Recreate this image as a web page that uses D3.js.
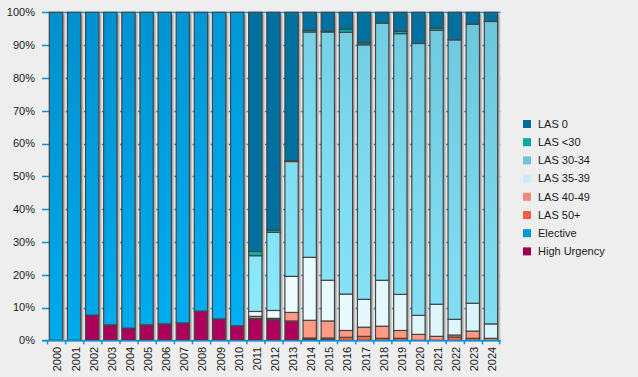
<!DOCTYPE html>
<html>
<head>
<meta charset="utf-8">
<script src="https://cdn.jsdelivr.net/npm/d3@7"></script>
<style>
  body { margin: 0; background: #eeeeee; }
  #chart text { font-family: "Liberation Sans", Arial, sans-serif; font-size: 11px; fill: #1a1a1a; }
</style>
</head>
<body>
<div id="chart"></div>
<script>
const years = d3.range(2000, 2025).map(String);
const seriesNames = ["High Urgency", "Elective", "LAS 50+", "LAS 40-49", "LAS 35-39", "LAS 30-34", "LAS <30", "LAS 0"];

// percentages per year
const highUrgency = [0, 0, 7.7, 4.7, 3.7, 4.7, 5.0, 5.3, 8.9, 6.5, 4.4, 6.5, 6.2, 5.9, 0.3, 0.2, 0, 0, 0, 0, 0, 0, 0, 0, 0];
const elective = [100, 100, 92.3, 95.3, 96.3, 95.3, 95.0, 94.7, 91.1, 93.5, 95.6, 0, 0, 0, 0, 0, 0, 0, 0, 0, 0, 0, 0, 0, 0];
const las50 = [0, 0, 0, 0, 0, 0, 0, 0, 0, 0, 0, 0.2, 0.2, 0, 0.4, 0.5, 0.9, 1.2, 0.6, 0.6, 0, 0, 1.0, 0.6, 0];
const las4049 = [0, 0, 0, 0, 0, 0, 0, 0, 0, 0, 0, 0.6, 0.3, 2.6, 5.4, 5.2, 2.1, 2.8, 3.7, 2.4, 1.8, 1.2, 0.6, 2.2, 0.6];
const las3539 = [0, 0, 0, 0, 0, 0, 0, 0, 0, 0, 0, 1.5, 2.4, 11.0, 19.2, 12.4, 11.1, 8.5, 14.0, 11.0, 5.8, 9.8, 4.8, 8.5, 4.4];
const las3034 = [0, 0, 0, 0, 0, 0, 0, 0, 0, 0, 0, 17.0, 23.8, 35.0, 68.7, 75.7, 79.8, 77.6, 78.4, 79.5, 82.9, 83.5, 85.2, 85.1, 92.2];
const lasUnder30 = [0, 0, 0, 0, 0, 0, 0, 0, 0, 0, 0, 1.3, 0.7, 0.3, 0.5, 0.2, 0.9, 0.6, 0, 0.7, 0, 0.7, 0, 0, 0];
const las0 = [0, 0, 0, 0, 0, 0, 0, 0, 0, 0, 0, 72.9, 66.4, 45.2, 5.5, 5.8, 5.2, 9.3, 3.3, 5.8, 9.5, 4.8, 8.4, 3.6, 2.8];
const yTicks = [0, 10, 20, 30, 40, 50, 60, 70, 80, 90, 100];

const width = 638, height = 377;
const plotLeft = 47.5, plotRight = 500.6, plotTop = 12.3, plotBottom = 340.3;
const axisBlue = "#108ed6";

const legendColors = {
    "LAS 0": "#006c99", "LAS <30": "#00ab9f", "LAS 30-34": "#6fc3db", "LAS 35-39": "#cdeaf8",
    "LAS 40-49": "#f28a7a", "LAS 50+": "#f25c44", "Elective": "#0096d8", "High Urgency": "#9e0050"
};

const svg = d3.select("#chart").append("svg")
    .attr("width", width)
    .attr("height", height);

const defs = svg.append("defs");
const addGradient = (id, x1, y1, x2, y2, c1, c2) => {
    const g = defs.append("linearGradient")
        .attr("id", id)
        .attr("gradientUnits", "userSpaceOnUse")
        .attr("x1", x1).attr("y1", y1).attr("x2", x2).attr("y2", y2);
    g.append("stop").attr("offset", 0).attr("stop-color", c1);
    g.append("stop").attr("offset", 1).attr("stop-color", c2);
    return "url(#" + id + ")";
};

const fills = {
    "High Urgency": addGradient("gHU", 48, 200, 300, 340, "#a6005a", "#b0005c"),
    "Elective": addGradient("gEl", 48, 12, 245, 340, "#008fcd", "#00b2f6"),
    "LAS 50+": "#ff6848",
    "LAS 40-49": "#ff9a84",
    "LAS 35-39": addGradient("g3539", 250, 340, 500, 300, "#f2ffff", "#d6f3fb"),
    "LAS 30-34": addGradient("g3034", 250, 340, 500, 20, "#8eecff", "#6cc6db"),
    "LAS <30": "#00b3aa",
    "LAS 0": "#00709f"
};
const shadowFill = addGradient("gShadow", 0, 0, 1, 0, "#8a8a8a", "#dcdcdc");
defs.select("#gShadow").attr("gradientUnits", "objectBoundingBox");

const xScale = d3.scaleBand().domain(years).range([plotLeft, plotRight]).padding(0);
const yScale = d3.scaleLinear().domain([0, 100]).range([plotBottom, plotTop]);
const barOffset = 1.8, barWidth = xScale.bandwidth() * 0.735;

// gridlines behind the bars
svg.append("g").selectAll("line")
    .data(yTicks)
    .join("line")
    .attr("x1", 42).attr("x2", plotRight)
    .attr("y1", (d) => Math.round(yScale(d)) + 0.5)
    .attr("y2", (d) => Math.round(yScale(d)) + 0.5)
    .attr("stroke", axisBlue)
    .attr("stroke-width", 1.3);

const rows = years.map((year, i) => ({
    year: year,
    "High Urgency": highUrgency[i], "Elective": elective[i], "LAS 50+": las50[i], "LAS 40-49": las4049[i],
    "LAS 35-39": las3539[i], "LAS 30-34": las3034[i], "LAS <30": lasUnder30[i], "LAS 0": las0[i]
}));
const stacked = d3.stack().keys(seriesNames)(rows);

// bar shadows
svg.append("g").selectAll("rect")
    .data(years)
    .join("rect")
    .attr("x", (d) => xScale(d) + barOffset + barWidth)
    .attr("y", plotTop + 2)
    .attr("width", 3)
    .attr("height", plotBottom - plotTop - 2)
    .attr("fill", shadowFill);

svg.append("g").selectAll("g")
    .data(stacked)
    .join("g")
    .attr("fill", (s) => fills[s.key])
    .selectAll("rect")
    .data((s) => s.filter((d) => d[1] - d[0] > 0))
    .join("rect")
    .attr("x", (d) => xScale(d.data.year) + barOffset)
    .attr("y", (d) => yScale(d[1]))
    .attr("width", barWidth)
    .attr("height", (d) => yScale(d[0]) - yScale(d[1]))
    .attr("stroke", "#444")
    .attr("stroke-width", 1.2);

// x axis line and ticks at band boundaries
svg.append("line")
    .attr("x1", 42).attr("x2", plotRight)
    .attr("y1", plotBottom + 0.5).attr("y2", plotBottom + 0.5)
    .attr("stroke", axisBlue).attr("stroke-width", 1.5);
svg.append("g").selectAll("line")
    .data(years.map((y) => xScale(y)).concat([plotRight - 1]))
    .join("line")
    .attr("x1", (d) => d).attr("x2", (d) => d)
    .attr("y1", plotBottom).attr("y2", plotBottom + 4)
    .attr("stroke", axisBlue).attr("stroke-width", 1.5);

svg.append("g").selectAll("text")
    .data(years)
    .join("text")
    .attr("transform", (d) => "translate(" + (xScale(d) + xScale.bandwidth() / 2 + 1) + "," + (plotBottom + 6.5) + ") rotate(-90)")
    .attr("text-anchor", "end")
    .attr("dy", "0.35em")
    .text((d) => d);

svg.append("g").selectAll("text")
    .data(yTicks)
    .join("text")
    .attr("x", 35)
    .attr("y", (d) => yScale(d))
    .attr("dy", "0.35em")
    .attr("text-anchor", "end")
    .text((d) => d + "%");

// legend, top entry is the top of the stack
const legend = svg.append("g").selectAll("g")
    .data(seriesNames.slice().reverse())
    .join("g")
    .attr("transform", (d, i) => "translate(523," + (124 + i * 18.2) + ")");
legend.append("rect")
    .attr("x", 0).attr("y", -4)
    .attr("width", 8).attr("height", 8)
    .attr("fill", (d) => legendColors[d]);
legend.append("text")
    .attr("x", 15)
    .attr("dy", "0.35em")
    .text((d) => d);
</script>
</body>
</html>
